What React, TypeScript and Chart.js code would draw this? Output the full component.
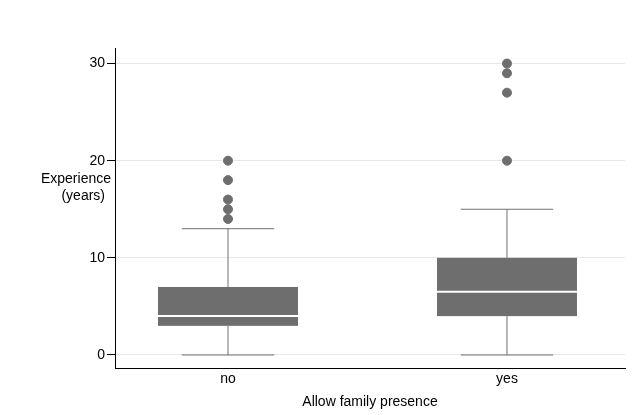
import React, { useEffect, useRef } from "react";
import { Chart, registerables } from "chart.js";
Chart.register(...registerables);

const categories = ["no", "yes"];
const whiskerLow = [0, 0];
const q1 = [3, 4];
const median = [4, 6.5];
const q3 = [7, 10];
const whiskerHigh = [13, 15];
const outliersNo = [14, 15, 16, 18, 20];
const outliersYes = [20, 27, 29, 30];
const yTicks = [0, 10, 20, 30];

const boxPlugin = {
  id: "boxes",
  afterDatasetsDraw(chart: any) {
    const { ctx, scales } = chart;
    const x = scales.x, y = scales.y;
    ctx.save();
    categories.forEach((_, i) => {
      const cx = x.getPixelForValue(i + 1);
      const half = (x.getPixelForValue(1.25) - x.getPixelForValue(1)) ;
      const hw = 70;
      const capw = 70;
      ctx.strokeStyle = "#707070";
      ctx.lineWidth = 1;
      ctx.beginPath();
      ctx.moveTo(cx, y.getPixelForValue(whiskerLow[i]));
      ctx.lineTo(cx, y.getPixelForValue(q1[i]));
      ctx.moveTo(cx, y.getPixelForValue(q3[i]));
      ctx.lineTo(cx, y.getPixelForValue(whiskerHigh[i]));
      ctx.moveTo(cx - capw * 0.66, y.getPixelForValue(whiskerLow[i]));
      ctx.lineTo(cx + capw * 0.66, y.getPixelForValue(whiskerLow[i]));
      ctx.moveTo(cx - capw * 0.66, y.getPixelForValue(whiskerHigh[i]));
      ctx.lineTo(cx + capw * 0.66, y.getPixelForValue(whiskerHigh[i]));
      ctx.stroke();
      const top = y.getPixelForValue(q3[i]);
      const bot = y.getPixelForValue(q1[i]);
      ctx.fillStyle = "#6e6e6e";
      ctx.fillRect(cx - hw, top, hw * 2, bot - top);
      ctx.strokeStyle = "#ffffff";
      ctx.lineWidth = 2;
      ctx.beginPath();
      const my = y.getPixelForValue(median[i]);
      ctx.moveTo(cx - hw, my);
      ctx.lineTo(cx + hw, my);
      ctx.stroke();
      void half;
    });
    ctx.fillStyle = "#000";
    ctx.font = "14px 'Liberation Sans', Arial, sans-serif";
    ctx.textAlign = "right";
    ctx.textBaseline = "middle";
    ctx.fillText("Experience", 111, 179);
    ctx.fillText("(years)", 105, 196);
    ctx.restore();
  },
};

export default function App() {
  const ref = useRef<HTMLCanvasElement>(null);
  useEffect(() => {
    document.body.style.margin = "0";
    const pts = [
      ...outliersNo.map((v) => ({ x: 1, y: v })),
      ...outliersYes.map((v) => ({ x: 2, y: v })),
    ];
    const chart = new Chart(ref.current!, {
      type: "scatter",
      data: {
        datasets: [
          {
            data: pts,
            backgroundColor: "#6e6e6e",
            borderColor: "#6e6e6e",
            pointRadius: 4.5,
          },
        ],
      },
      options: {
        animation: false,
        responsive: false,
        layout: { padding: { top: 48, right: 15, left: 0, bottom: 0 } },
        plugins: { legend: { display: false }, tooltip: { enabled: false } },
        scales: {
          x: {
            type: "linear",
            min: 0.595,
            max: 2.423,
            afterBuildTicks: (s: any) => { s.ticks = [{ value: 1 }, { value: 2 }]; },
            afterFit: (s: any) => { s.height = 47; },
            ticks: {
              color: "#000",
              font: { size: 14, family: "'Liberation Sans', Arial, sans-serif" },
              callback: (v: any) => categories[Number(v) - 1] ?? "",
            },
            grid: { display: false, drawTicks: false },
            border: { color: "#000", width: 1 },
            title: {
              display: true,
              text: "Allow family presence",
              color: "#000",
              font: { size: 14, family: "'Liberation Sans', Arial, sans-serif" },
              padding: { top: 2 },
            },
          },
          y: {
            min: -1.34,
            max: 31.6,
            afterBuildTicks: (s: any) => { s.ticks = yTicks.map((v) => ({ value: v })); },
            afterFit: (s: any) => { s.width = 115; },
            ticks: {
              color: "#000",
              padding: 2,
              font: { size: 14, family: "'Liberation Sans', Arial, sans-serif" },
            },
            grid: { color: "#e8e8e8", tickColor: "#000", tickLength: 8 },
            border: { color: "#000", width: 1 },
          },
        },
      },
      plugins: [boxPlugin],
    });
    return () => chart.destroy();
  }, []);
  return <canvas ref={ref} width={640} height={415} />;
}
